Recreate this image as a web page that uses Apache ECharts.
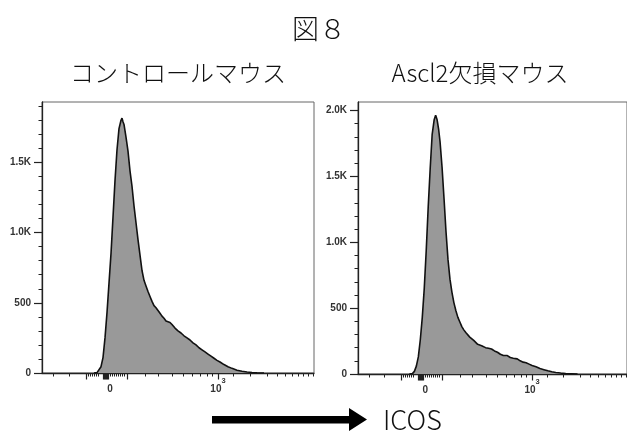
<!DOCTYPE html>
<html>
<head>
<meta charset="utf-8">
<script src="https://cdn.jsdelivr.net/npm/echarts@6/dist/echarts.min.js"></script>
<style>
html,body{margin:0;padding:0;background:#fff;}
#chart{width:627px;height:433px;}
</style>
</head>
<body>
<div id="chart"></div>
<script>
// Display scale of the (biexponential) ICOS axis, in display units
const leftX = [52, 55, 57, 59, 61, 63, 65, 67, 69, 71, 73, 75, 77, 79, 80, 81, 82, 84, 86, 88, 90, 92, 94, 96, 98, 100, 102, 104, 106, 108, 110, 112, 114, 116, 118, 120, 122, 124, 126, 128, 130, 133, 136, 139, 142, 145, 148, 151, 154, 157, 160, 163, 166, 169, 172, 175, 178, 182, 186, 190, 195, 200, 205, 210, 215, 222];
const leftCount = [0, 3, 15, 45, 110, 250, 430, 640, 850, 1110, 1370, 1590, 1740, 1800, 1815, 1790, 1770, 1680, 1580, 1440, 1330, 1190, 1070, 950, 840, 730, 660, 620, 580, 545, 510, 480, 465, 445, 425, 405, 390, 370, 365, 360, 345, 320, 300, 285, 265, 250, 235, 215, 200, 180, 165, 150, 135, 120, 105, 90, 78, 60, 45, 33, 20, 12, 7, 4, 2, 0];

const rightX = [52, 55, 57, 59, 61, 63, 65, 67, 69, 71, 73, 75, 77, 78.5, 80, 81.5, 83, 85, 87, 89, 91, 93, 95, 97, 99, 101, 103, 105, 107, 109, 111, 113, 115, 117, 119, 121, 123, 125, 127, 129, 132, 135, 138, 141, 144, 147, 149, 151, 154, 157, 159, 161, 164, 167, 170, 173, 176, 180, 184, 188, 192, 196, 200, 205, 210, 216, 222];
const rightCount = [0, 3, 20, 60, 130, 260, 430, 650, 940, 1270, 1560, 1820, 1930, 1965, 1930, 1860, 1760, 1570, 1330, 1080, 870, 720, 620, 540, 480, 430, 395, 360, 335, 315, 300, 280, 265, 255, 245, 225, 235, 215, 205, 200, 195, 190, 175, 165, 150, 140, 155, 140, 125, 120, 130, 115, 100, 90, 85, 75, 65, 55, 42, 33, 24, 17, 12, 7, 4, 2, 0];

// x-axis ticks (display units)
const xMinorTicks = [11, 27, 46, 48, 50, 52, 54, 56, 68, 70, 72, 74, 76, 78, 80, 82, 103, 116, 130, 141, 150, 158, 165, 170, 191, 208, 225, 235, 243, 250, 256, 261, 266, 271];
const xMajorTicks = [44, 61, 62, 63, 64, 65, 66, 85, 176];
const xLabelValues = [68, 176];
const xLabelTexts = ['{b|0}', '{b|10}{s|3}'];

// y-axis ticks
const leftYMax = 1930;
const rightYMax = 2065;
const leftYMinor = [0, 100, 200, 300, 400, 500, 600, 700, 800, 900, 1000, 1100, 1200, 1300, 1400, 1500, 1600, 1700, 1800, 1900];
const rightYMinor = [0, 100, 200, 300, 400, 500, 600, 700, 800, 900, 1000, 1100, 1200, 1300, 1400, 1500, 1600, 1700, 1800, 1900, 2000];
const leftYMajor = [0, 500, 1000, 1500];
const leftYLabels = ['0', '500', '1.0K', '1.5K'];
const rightYMajor = [0, 500, 1000, 1500, 2000];
const rightYLabels = ['0', '500', '1.0K', '1.5K', '2.0K'];

const figTitle = '図８';
const leftTitle = 'コントロールマウス';
const rightTitle = 'Ascl2欠損マウス';
const xName = 'ICOS';

const XMIN = 0, XMAX = 272;
const axisColor = '#222';
const labelFont = 'Liberation Sans';
const textFont = '"Noto Sans CJK JP"';

function zip(xs, ys) { return xs.map((x, i) => [x, ys[i]]); }

function xAxes(gridIndex) {
  return [
    {
      type: 'value', gridIndex, min: XMIN, max: XMAX, position: 'bottom',
      axisLine: { show: true, onZero: false, lineStyle: { color: axisColor, width: 1.3 } },
      axisTick: { show: true, length: 3.5, customValues: xMinorTicks, lineStyle: { color: axisColor, width: 1 } },
      axisLabel: { show: false },
      splitLine: { show: false }
    },
    {
      type: 'value', gridIndex, min: XMIN, max: XMAX, position: 'bottom',
      axisLine: { show: false, onZero: false },
      axisTick: { show: true, length: 6.5, customValues: xMajorTicks, lineStyle: { color: axisColor, width: 1.2 } },
      axisLabel: {
        show: true, customValues: xLabelValues, margin: 11,
        formatter: (v) => xLabelTexts[xLabelValues.indexOf(v)] || '',
        rich: {
          b: { fontSize: 10, fontFamily: labelFont, fontWeight: 'bold', color: '#333', lineHeight: 10, verticalAlign: 'bottom' },
          s: { fontSize: 7.5, fontFamily: labelFont, fontWeight: 'bold', color: '#333', lineHeight: 8, padding: [0, 0, 9, 0], verticalAlign: 'bottom' }
        }
      },
      splitLine: { show: false }
    }
  ];
}

function yAxes(gridIndex, max, minor, major, labels) {
  return [
    {
      type: 'value', gridIndex, min: 0, max, position: 'left',
      axisLine: { show: true, onZero: false, lineStyle: { color: axisColor, width: 1.3 } },
      axisTick: { show: true, length: 3.5, customValues: minor, lineStyle: { color: axisColor, width: 1 } },
      axisLabel: { show: false },
      splitLine: { show: false }
    },
    {
      type: 'value', gridIndex, min: 0, max, position: 'left',
      axisLine: { show: false, onZero: false },
      axisTick: { show: true, length: 8, customValues: major, lineStyle: { color: axisColor, width: 1.2 } },
      axisLabel: {
        show: true, customValues: major, margin: 11,
        fontSize: 10, fontWeight: 'bold', fontFamily: labelFont, color: '#333',
        formatter: (v) => labels[major.indexOf(v)] || ''
      },
      splitLine: { show: false }
    }
  ];
}

const chart = echarts.init(document.getElementById('chart'), null, { renderer: 'canvas' });

const option = {
  animation: false,
  backgroundColor: '#ffffff',
  grid: [
    { left: 42, top: 102, width: 272, height: 271, show: true, borderColor: '#666', borderWidth: 1, backgroundColor: 'transparent' },
    { left: 358, top: 102, width: 272, height: 272, show: true, borderColor: '#666', borderWidth: 1, backgroundColor: 'transparent' }
  ],
  xAxis: [...xAxes(0), ...xAxes(1)],
  yAxis: [
    ...yAxes(0, leftYMax, leftYMinor, leftYMajor, leftYLabels),
    ...yAxes(1, rightYMax, rightYMinor, rightYMajor, rightYLabels)
  ],
  series: [
    {
      type: 'line', xAxisIndex: 0, yAxisIndex: 0, data: zip(leftX, leftCount),
      showSymbol: false, symbol: 'none', smooth: false,
      lineStyle: { color: '#111', width: 1.6 },
      areaStyle: { color: '#999999', opacity: 1 }
    },
    {
      type: 'line', xAxisIndex: 2, yAxisIndex: 2, data: zip(rightX, rightCount),
      showSymbol: false, symbol: 'none', smooth: false,
      lineStyle: { color: '#111', width: 1.6 },
      areaStyle: { color: '#999999', opacity: 1 }
    }
  ],
  graphic: [
    { type: 'text', x: 319, y: 29, style: { text: figTitle, font: '300 27px ' + textFont, fill: '#111', align: 'center', verticalAlign: 'middle' } },
    { type: 'text', x: 178, y: 73, style: { text: leftTitle, font: '300 24px ' + textFont, fill: '#111', align: 'center', verticalAlign: 'middle' } },
    { type: 'text', x: 480, y: 73, style: { text: rightTitle, font: '300 24px ' + textFont, fill: '#111', align: 'center', verticalAlign: 'middle' } },
    { type: 'polygon', shape: { points: [[212, 416], [349, 416], [349, 408], [367, 419.5], [349, 431], [349, 423.5], [212, 423.5]] }, style: { fill: '#000' } },
    { type: 'text', x: 383, y: 420, style: { text: xName, font: '300 27px ' + textFont, fill: '#111', align: 'left', verticalAlign: 'middle' } }
  ]
};

chart.setOption(option);
</script>
</body>
</html>
